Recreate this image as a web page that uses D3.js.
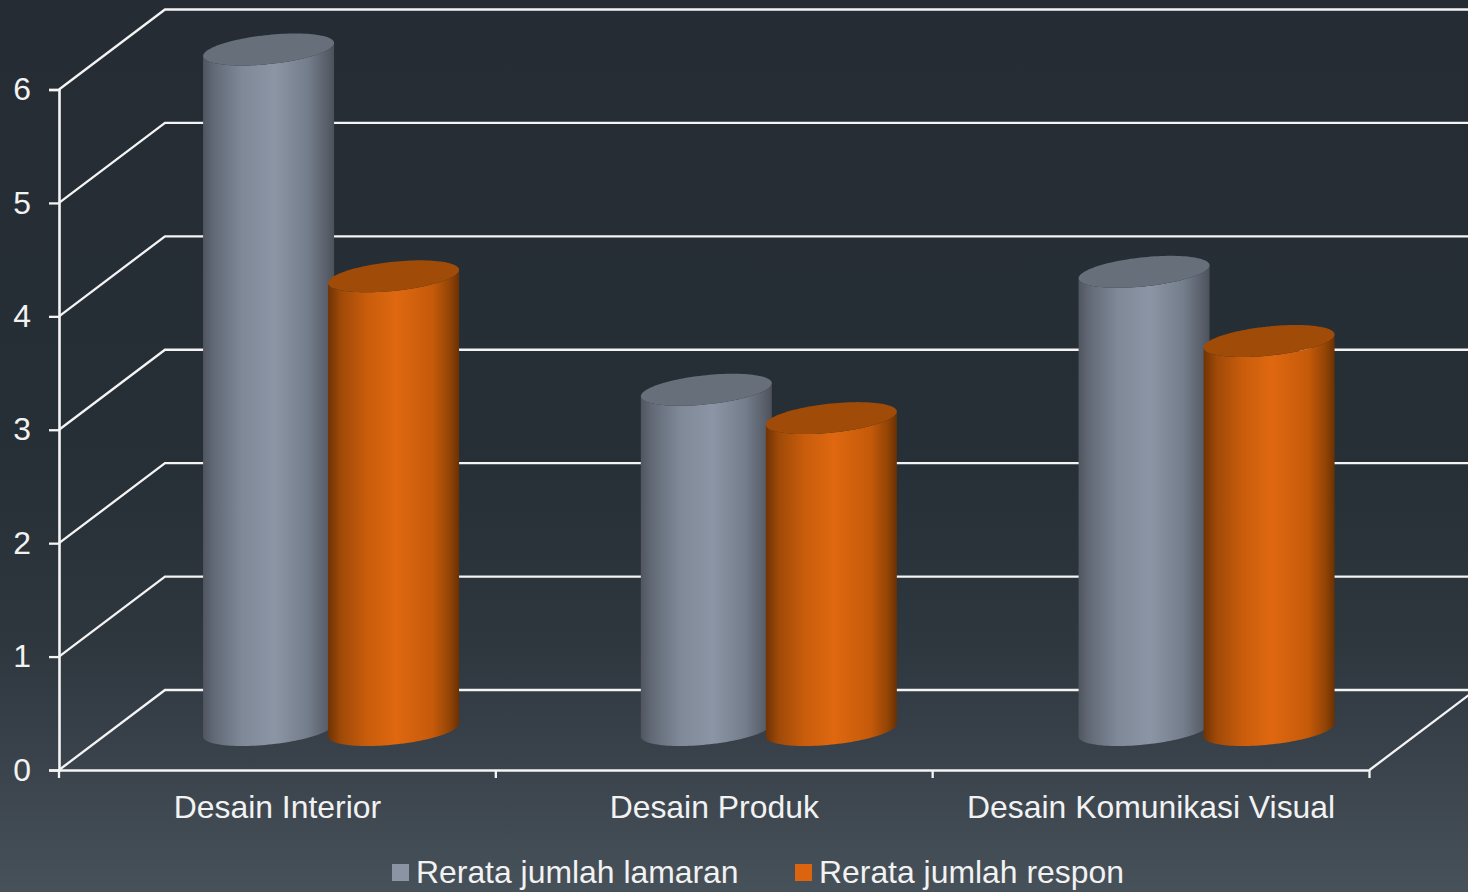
<!DOCTYPE html>
<html><head><meta charset="utf-8">
<script src="https://cdn.jsdelivr.net/npm/d3@7"></script>
<style>html,body{margin:0;padding:0;overflow:hidden;background:#252c34}svg{display:block}
text{font-family:"Liberation Sans",Arial,sans-serif;fill:#f2f2f2}</style>
</head><body><svg id="c" width="1468" height="892"></svg>
<script>
const categories = ["Desain Interior","Desain Produk","Desain Komunikasi Visual"];
const seriesNames = ["Rerata jumlah lamaran","Rerata jumlah respon"];
const lamaran = [6.0,3.0,4.04];
const respon = [4.0,2.75,3.43];
const yTicks = [0,1,2,3,4,5,6];

const W=1468,H=892,depthX=106,depthY=-80;
const svg=d3.select("#c");
const defs=svg.append("defs");
const bg=defs.append("linearGradient").attr("id","bg").attr("x1",0).attr("y1",0).attr("x2",0).attr("y2",1);
[[0,"#252c34"],[0.5,"#262e36"],[0.72,"#2e363e"],[1,"#47515a"]].forEach(s=>bg.append("stop").attr("offset",s[0]).attr("stop-color",s[1]));
function grad(id,stops){const g=defs.append("linearGradient").attr("id",id).attr("x1",0).attr("y1",0).attr("x2",1).attr("y2",0);
 stops.forEach(s=>g.append("stop").attr("offset",s[0]).attr("stop-color",s[1]));}
grad("g0",[[0,"#50565f"],[0.08,"#626976"],[0.3,"#7f8998"],[0.55,"#8b95a5"],[0.8,"#747d8b"],[0.95,"#585e69"],[1,"#4c5159"]]);
grad("g1",[[0,"#703304"],[0.1,"#a04a08"],[0.3,"#c95d0c"],[0.52,"#df6810"],[0.8,"#c55a0a"],[0.93,"#924406"],[1,"#6a3103"]]);
const topColor=["#676f7a","#a04c08"],swatch=["#8a94a5","#dc640e"];

svg.append("rect").attr("width",W).attr("height",H).attr("fill","url(#bg)");

const x=d3.scaleBand().domain(categories).range([59,1369.5]);
const xBar=d3.scaleBand().domain(categories).range([111.7,1424.95]);
const y=d3.scaleLinear().domain([0,6]).range([770,89.5]);

// walls / gridlines
const wall=svg.append("g").attr("fill","none").attr("stroke","#f4f4f4").attr("stroke-width",2.3);
yTicks.forEach(v=>{
  wall.append("path").attr("d",d3.line()([[59,y(v)],[59+depthX,y(v)+depthY],[W+5,y(v)+depthY]]));
});
wall.append("path").attr("d",d3.line()([[1369.5,770],[1369.5+depthX,770+depthY]]));

// axes
const axL=svg.append("g").attr("transform","translate(59,0)").call(d3.axisLeft(y).tickValues(yTicks).tickFormat(d3.format("d")).tickSize(10).tickPadding(18));
const axB=svg.append("g").attr("transform","translate(0,770)").call(d3.axisBottom(x).tickSize(0).tickPadding(25));
[59,495.83,932.67,1369.5].forEach(t=>axB.append("line").attr("x1",t).attr("x2",t).attr("y1",0).attr("y2",8));
[axL,axB].forEach(a=>{a.selectAll("path.domain").attr("stroke","#f4f4f4").attr("stroke-width",2.6);
 a.selectAll("line").attr("stroke","#f4f4f4").attr("stroke-width",2.3);
 a.selectAll("text").attr("font-size",31.9).attr("fill","#f2f2f2").style("font-family",'"Liberation Sans"');});
axB.selectAll(".tick text").attr("dy","0.71em");

// cylinders
const rx=65.5,skew=6.5,ry=14.6;
const pt=(cx,cy,t)=>[cx+rx*Math.cos(t),cy-skew*Math.cos(t)+ry*Math.sin(t)];
const N=60;
function bodyPath(cx,yt,yb){
  const pts=[];
  d3.range(N+1).forEach(i=>pts.push(pt(cx,yt,Math.PI*(N-i)/N)));  // top rim, left to right
  d3.range(N+1).forEach(i=>pts.push(pt(cx,yb,Math.PI*i/N)));      // bottom rim, right to left
  return d3.line()(pts)+"Z";
}
function topPath(cx,yt){return d3.line()(d3.range(2*N).map(i=>pt(cx,yt,Math.PI*i/N)))+"Z";}
const bars=svg.append("g");
[lamaran,respon].forEach((vals,s)=>{
  vals.forEach((v,i)=>{
    const cx=xBar(categories[i])+xBar.bandwidth()/2+(s===0?-62:63);
    const yb=y(0)+depthY/2, yt=y(v)+depthY/2;
    bars.append("path").attr("d",bodyPath(cx,yt,yb)).attr("fill",`url(#g${s})`);
    bars.append("path").attr("d",topPath(cx,yt)).attr("fill",topColor[s]);
  });
});

// legend
const lx=[392,795];
seriesNames.forEach((n,i)=>{
  svg.append("rect").attr("x",lx[i]).attr("y",864).attr("width",17).attr("height",17).attr("fill",swatch[i]);
  svg.append("text").attr("x",lx[i]+24).attr("y",883).attr("font-size",31.9).text(n);
});
</script></body></html>
